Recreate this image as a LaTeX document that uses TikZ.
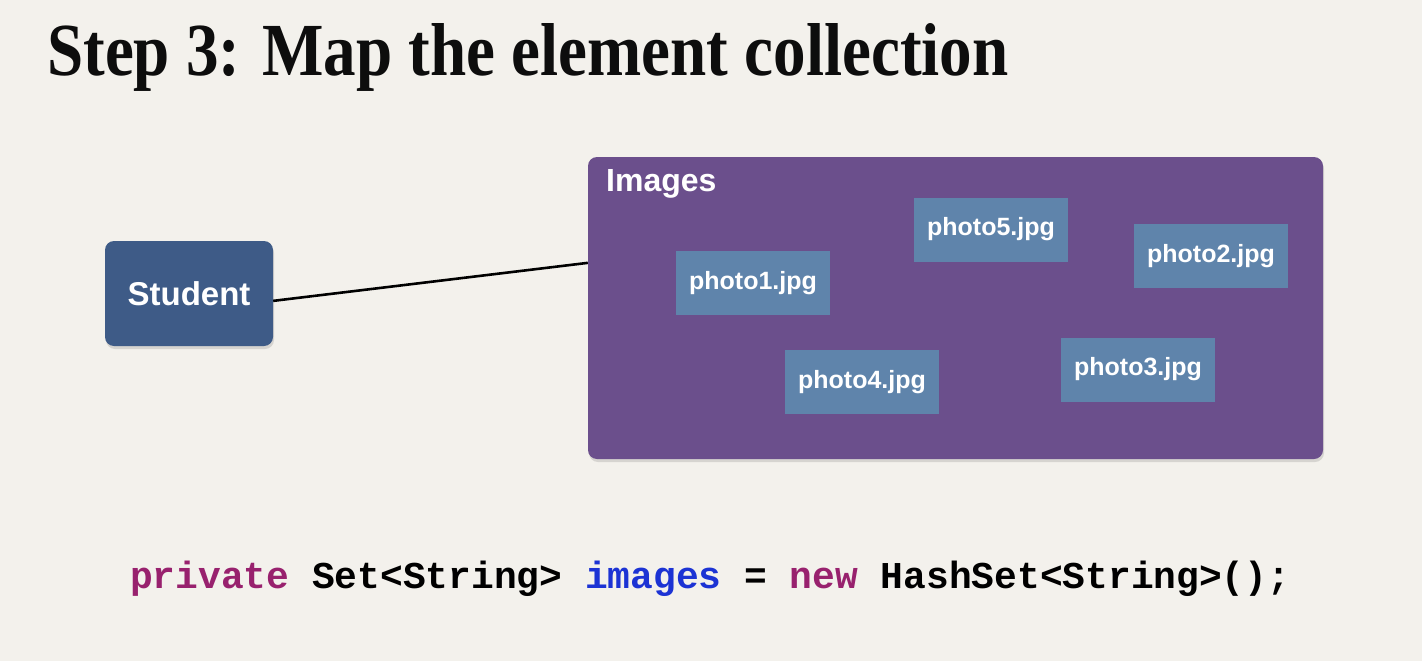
\documentclass[tikz,border=0pt]{standalone}
\usepackage{fontspec}
\usepackage{graphicx}
\usepackage{xcolor}
\setmainfont{Liberation Serif}
\setsansfont{Liberation Sans}
\setmonofont{Liberation Mono}
\usetikzlibrary{shadows}

\definecolor{slidebg}{HTML}{F3F1EC}
\definecolor{studentblue}{HTML}{3E5B87}
\definecolor{setpurple}{HTML}{6B4F8C}
\definecolor{photoblue}{HTML}{5F84AB}
\definecolor{kwpurple}{HTML}{98216E}
\definecolor{varblue}{HTML}{1C33D4}

\tikzset{
  softshadow/.style={drop shadow={opacity=0.25,shadow xshift=1pt,shadow yshift=-3pt}},
  classbox/.style={rounded corners=9pt,fill=studentblue,softshadow,text=white,
    font=\sffamily\bfseries\fontsize{33}{36}\selectfont,
    minimum width=168pt,minimum height=105pt,inner sep=0pt},
  setbox/.style={rounded corners=9pt,fill=setpurple,softshadow,
    minimum width=735pt,minimum height=302pt,inner sep=0pt},
  photobox/.style={fill=photoblue,text=white,
    font=\sffamily\bfseries\fontsize{25}{28}\selectfont,
    minimum width=154pt,minimum height=64pt,inner sep=0pt},
}

\begin{document}
\begin{tikzpicture}[x=1pt,y=-1pt]
  \fill[slidebg] (0,0) rectangle (1422,661);
  \useasboundingbox (0,0) rectangle (1422,661);

  % title
  \node[anchor=base west,inner sep=0pt,text=black!95] (title) at (47,75)
    {\resizebox{961pt}{52pt}{\bfseries Step 3: Map the element collection}};

  % class and collection
  \node[classbox] (student) at (189,293.5) {Student};
  \node[setbox] (imagesbox) at (955.5,308) {};
  \node[anchor=base west,inner sep=0pt,text=white,
    font=\sffamily\bfseries\fontsize{32}{34}\selectfont] (imageslabel) at (606,191) {Images};
  \draw[line width=2.6pt] (student.-5) -- (imagesbox.173.3);

  % elements
  \foreach \n/\x/\y in {1/753/283,5/991/229.5,2/1211/256,4/862/382,3/1138/369.5}{
    \node[photobox] (photo\n) at (\x,\y) {photo\n.jpg};
  }

  % code line
  \node[anchor=base west,inner sep=0pt] (code) at (130,588)
    {\resizebox{1160pt}{!}{\ttfamily\bfseries\fontsize{38}{40}\selectfont
      \textcolor{kwpurple}{private} Set<String> \textcolor{varblue}{images} =
      \textcolor{kwpurple}{new} HashSet<String>();}};
\end{tikzpicture}
\end{document}
